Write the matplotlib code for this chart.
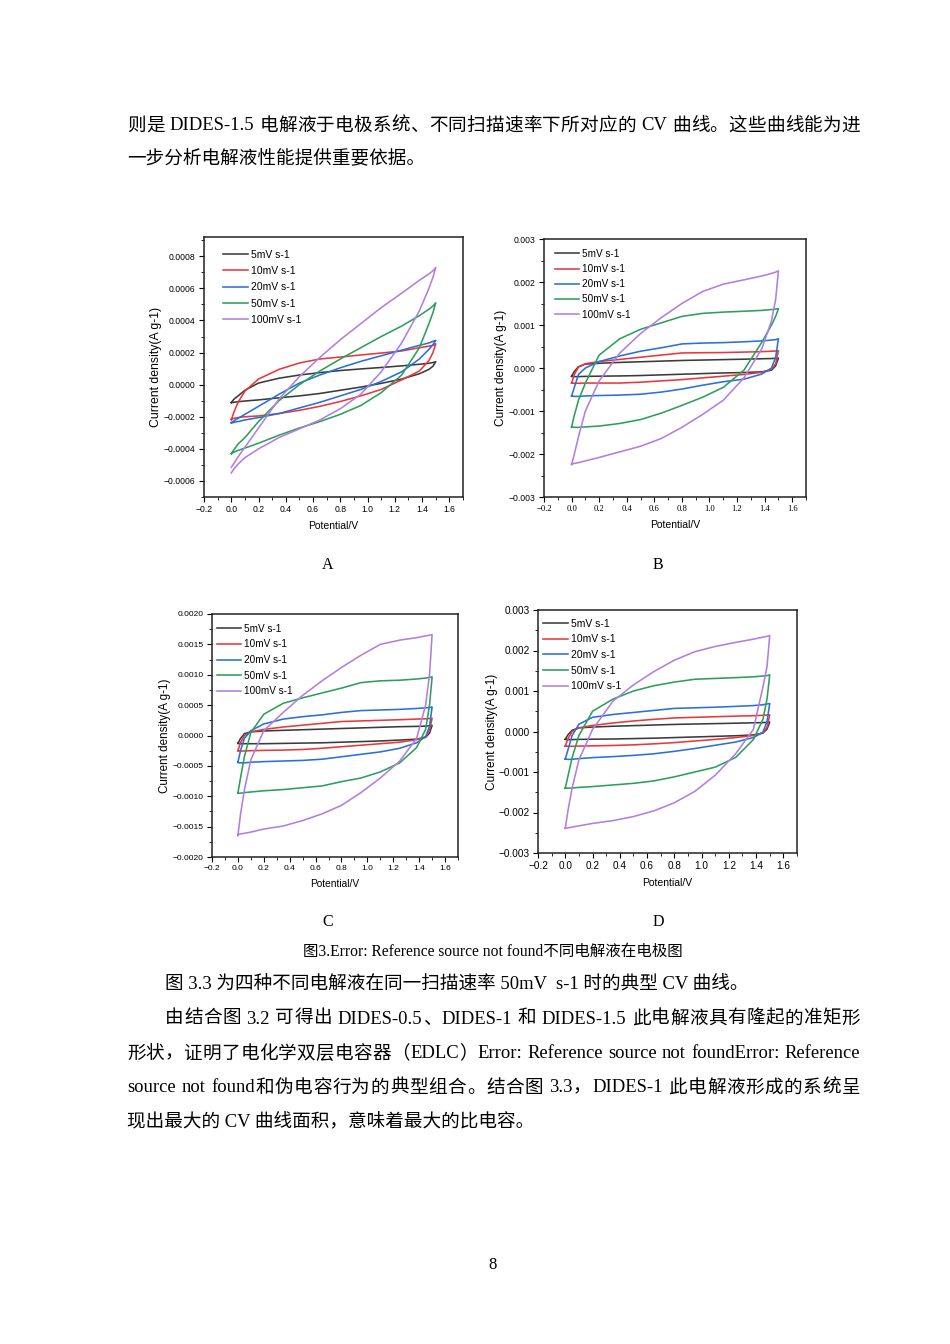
import re
import matplotlib
matplotlib.use("Agg")
import matplotlib.pyplot as plt
from matplotlib.ticker import FixedLocator, FuncFormatter, MultipleLocator

plt.rcParams['font.family'] = ['Liberation Sans', 'DejaVu Sans']
plt.rcParams['axes.unicode_minus'] = True

# ---------------- data (current in units of 1e-4 A g-1) ----------------
RATES = ["5mV s-1", "10mV s-1", "20mV s-1", "50mV s-1", "100mV s-1"]
COLORS = ["#3b3b3b", "#e8383d", "#2a6fdb", "#2e9e5b", "#b27ee0"]
E_GRID = [0, 0.02, 0.05, 0.1, 0.2, 0.35, 0.5, 0.65, 0.8, 0.95, 1.1, 1.25, 1.38, 1.45, 1.48, 1.5]
SCALE = 1e-4

# Panel A
A5_UP = [-1.12, -0.9, -0.7, -0.35, 0.1, 0.4, 0.6, 0.75, 0.88, 0.98, 1.07, 1.17, 1.27, 1.33, 1.38, 1.43]
A5_DN = [-1.12, -1.1, -1.06, -1.02, -0.95, -0.82, -0.7, -0.55, -0.35, -0.15, 0.08, 0.35, 0.68, 0.95, 1.15, 1.43]
A10_UP = [-2.2, -1.7, -1.1, -0.4, 0.35, 0.95, 1.35, 1.6, 1.72, 1.85, 1.97, 2.1, 2.3, 2.4, 2.45, 2.55]
A10_DN = [-2.15, -2.1, -2.05, -2.0, -1.95, -1.8, -1.6, -1.35, -1.05, -0.7, -0.3, 0.3, 0.85, 1.5, 2.0, 2.55]
A20_UP = [-2.36, -2.25, -2.1, -1.85, -1.35, -0.6, 0.1, 0.6, 1.05, 1.45, 1.8, 2.15, 2.45, 2.6, 2.7, 2.76]
A20_DN = [-2.4, -2.35, -2.3, -2.2, -2.05, -1.8, -1.45, -1.1, -0.7, -0.3, 0.2, 0.8, 1.6, 2.2, 2.5, 2.76]
A50_UP = [-4.3, -4.05, -3.7, -3.3, -2.3, -1.0, 0.0, 0.85, 1.6, 2.3, 3.0, 3.65, 4.3, 4.7, 4.9, 5.1]
A50_DN = [-4.3, -4.2, -4.1, -3.95, -3.65, -3.15, -2.7, -2.3, -1.85, -1.3, -0.5, 0.6, 2.3, 3.8, 4.5, 5.1]
A100_UP = [-5.15, -4.9, -4.5, -3.9, -2.7, -0.9, 0.5, 1.7, 2.8, 3.8, 4.8, 5.7, 6.5, 6.9, 7.1, 7.3]
A100_DN = [-5.5, -5.25, -4.95, -4.55, -4.0, -3.3, -2.75, -2.2, -1.5, -0.6, 0.8, 2.6, 4.6, 6.0, 6.7, 7.3]

# Panel B
B5_UP = [-1.9, -0.8, 0.3, 0.9, 1.1, 1.3, 1.45, 1.6, 1.75, 1.85, 1.95, 2.05, 2.15, 2.2, 2.25, 2.3]
B5_DN = [-1.95, -2.0, -2.0, -1.95, -1.9, -1.85, -1.75, -1.6, -1.45, -1.3, -1.15, -1.05, -0.9, -0.5, 0.5, 2.3]
B10_UP = [-3.5, -1.5, 0.2, 1.0, 1.5, 2.0, 2.5, 3.0, 3.5, 3.55, 3.6, 3.7, 3.8, 3.9, 3.95, 4.0]
B10_DN = [-3.5, -3.55, -3.55, -3.5, -3.5, -3.5, -3.3, -3.0, -2.7, -2.3, -1.9, -1.5, -1.0, -0.3, 1.0, 4.0]
B20_UP = [-6.5, -4.5, -1.5, 0.0, 1.5, 2.8, 3.9, 4.7, 5.6, 5.8, 5.9, 6.1, 6.3, 6.5, 6.6, 6.8]
B20_DN = [-6.5, -6.6, -6.6, -6.5, -6.4, -6.3, -6.1, -5.6, -4.9, -4.0, -3.2, -2.6, -1.4, 0.0, 2.5, 6.8]
B50_UP = [-13.7, -11.0, -7.5, -3.5, 3.0, 6.8, 9.0, 10.5, 12.0, 12.7, 13.0, 13.2, 13.4, 13.6, 13.7, 13.8]
B50_DN = [-13.7, -13.8, -13.8, -13.7, -13.5, -12.9, -12.0, -10.5, -8.7, -6.8, -4.5, -0.5, 6.0, 10.0, 12.0, 13.8]
B100_UP = [-22.5, -20.0, -16.0, -10.0, -3.0, 3.5, 8.0, 11.7, 15.0, 17.8, 19.5, 20.5, 21.4, 22.0, 22.3, 22.6]
B100_DN = [-22.3, -22.2, -22.0, -21.6, -20.8, -19.5, -18.2, -16.4, -13.8, -10.8, -7.5, -2.3, 4.5, 11.0, 16.0, 22.6]

# Panel C
C5_UP = [-1.3, -0.5, 0.3, 0.6, 0.75, 0.85, 0.95, 1.05, 1.15, 1.25, 1.35, 1.45, 1.5, 1.55, 1.6, 1.65]
C5_DN = [-1.3, -1.35, -1.35, -1.35, -1.35, -1.3, -1.25, -1.2, -1.1, -1.0, -0.9, -0.75, -0.6, -0.3, 0.4, 1.65]
C10_UP = [-2.5, -1.2, 0.0, 0.6, 1.0, 1.4, 1.7, 2.0, 2.3, 2.4, 2.5, 2.6, 2.7, 2.75, 2.8, 2.85]
C10_DN = [-2.5, -2.55, -2.55, -2.5, -2.45, -2.4, -2.3, -2.1, -1.85, -1.6, -1.35, -1.1, -0.7, -0.2, 0.8, 2.85]
C20_UP = [-4.4, -2.5, -0.5, 0.8, 1.9, 2.7, 3.1, 3.4, 3.8, 4.1, 4.2, 4.3, 4.45, 4.55, 4.6, 4.7]
C20_DN = [-4.45, -4.5, -4.5, -4.4, -4.3, -4.2, -4.1, -3.9, -3.5, -3.1, -2.7, -2.1, -1.2, -0.2, 1.5, 4.7]
C50_UP = [-9.5, -7.0, -3.5, 0.5, 3.5, 5.3, 6.2, 7.0, 7.8, 8.7, 9.0, 9.1, 9.3, 9.45, 9.55, 9.65]
C50_DN = [-9.5, -9.5, -9.4, -9.3, -9.1, -8.9, -8.6, -8.3, -7.6, -7.0, -6.0, -4.5, -2.0, 1.0, 5.0, 9.65]
C100_UP = [-16.5, -13.0, -9.0, -4.0, 0.8, 3.8, 6.6, 9.0, 11.2, 13.2, 15.0, 15.7, 16.1, 16.4, 16.5, 16.6]
C100_DN = [-16.3, -16.2, -16.1, -15.9, -15.4, -14.9, -14.0, -12.9, -11.5, -9.4, -7.0, -4.2, -0.5, 5.0, 10.0, 16.6]

# Panel D
D5_UP = [-1.9, -0.8, 0.3, 0.9, 1.1, 1.3, 1.45, 1.6, 1.75, 1.85, 1.95, 2.05, 2.15, 2.2, 2.25, 2.35]
D5_DN = [-1.95, -2.0, -2.0, -1.95, -1.9, -1.85, -1.75, -1.65, -1.5, -1.35, -1.2, -1.05, -0.85, -0.4, 0.6, 2.35]
D10_UP = [-3.6, -1.8, 0.0, 0.9, 1.5, 2.1, 2.6, 3.0, 3.35, 3.5, 3.65, 3.8, 3.9, 4.0, 4.05, 4.1]
D10_DN = [-3.6, -3.65, -3.65, -3.6, -3.55, -3.45, -3.3, -3.05, -2.75, -2.35, -1.95, -1.5, -1.0, -0.3, 1.0, 4.1]
D20_UP = [-6.8, -4.5, -1.0, 1.8, 3.5, 4.2, 4.7, 5.2, 5.7, 5.85, 6.0, 6.2, 6.4, 6.6, 6.8, 6.9]
D20_DN = [-6.8, -6.9, -6.85, -6.7, -6.45, -6.2, -5.9, -5.5, -4.9, -4.2, -3.4, -2.6, -1.5, -0.2, 2.5, 6.9]
D50_UP = [-14.0, -11.0, -6.5, -1.0, 5.0, 8.0, 10.0, 11.3, 12.2, 12.9, 13.1, 13.3, 13.5, 13.7, 13.8, 14.0]
D50_DN = [-14.0, -14.0, -13.95, -13.8, -13.6, -13.2, -12.8, -12.2, -11.2, -10.0, -8.8, -6.4, -2.0, 3.0, 8.0, 14.0]
D100_UP = [-23.9, -19.5, -14.0, -7.0, 0.5, 7.5, 11.5, 14.8, 17.6, 19.7, 21.0, 22.0, 22.8, 23.3, 23.5, 23.7]
D100_DN = [-23.9, -23.8, -23.6, -23.3, -22.7, -22.0, -21.0, -19.6, -17.6, -14.8, -10.8, -5.5, 0.5, 11.0, 16.0, 23.7]

PANEL_A = [(A5_UP, A5_DN), (A10_UP, A10_DN), (A20_UP, A20_DN), (A50_UP, A50_DN), (A100_UP, A100_DN)]
PANEL_B = [(B5_UP, B5_DN), (B10_UP, B10_DN), (B20_UP, B20_DN), (B50_UP, B50_DN), (B100_UP, B100_DN)]
PANEL_C = [(C5_UP, C5_DN), (C10_UP, C10_DN), (C20_UP, C20_DN), (C50_UP, C50_DN), (C100_UP, C100_DN)]
PANEL_D = [(D5_UP, D5_DN), (D10_UP, D10_DN), (D20_UP, D20_DN), (D50_UP, D50_DN), (D100_UP, D100_DN)]

X_TICKS = [-0.2, 0.0, 0.2, 0.4, 0.6, 0.8, 1.0, 1.2, 1.4, 1.6]

# ---------------- page text ----------------
PARA_1 = "则是 DIDES-1.5 电解液于电极系统、不同扫描速率下所对应的 CV 曲线。这些曲线能为进"
PARA_2 = "一步分析电解液性能提供重要依据。"
CAPTION = "图3.Error: Reference source not found不同电解液在电极图"
BODY_1 = "图 3.3 为四种不同电解液在同一扫描速率 50mV  s-1 时的典型 CV 曲线。"
BODY_2 = "由结合图 3.2 可得出 DIDES-0.5、DIDES-1 和 DIDES-1.5 此电解液具有隆起的准矩形"
BODY_3 = "形状，证明了电化学双层电容器（EDLC）Error: Reference source not foundError: Reference"
BODY_4 = "source not found和伪电容行为的典型组合。结合图 3.3，DIDES-1 此电解液形成的系统呈"
BODY_5 = "现出最大的 CV 曲线面积，意味着最大的比电容。"

W, H = 950, 1344
fig = plt.figure(figsize=(W / 100, H / 100), dpi=100)
fig.patch.set_facecolor("white")
renderer = fig.canvas.get_renderer()

TEXT_FAMILY = ['Liberation Serif', 'Noto Sans CJK SC']
BODY_FS = 13.4


def fx(px):
    return px / W


def fy(py):
    return 1 - py / H


def justified(text, x0, x1, y, fs=BODY_FS):
    tokens = re.findall(r'[\x21-\x7e]+| +|[^\x00-\x7f]', text)
    items = []
    for tok in tokens:
        if tok.strip() == "":
            items.append((None, len(tok) * fs * 0.25 * 100 / 72))
            continue
        t = fig.text(0, 0, tok, fontsize=fs, family=TEXT_FAMILY, va='center')
        w = t.get_window_extent(renderer).width
        items.append((t, w))
    total = sum(w for _, w in items)
    gaps = len(items) - 1
    extra = (x1 - x0 - total) / gaps if x1 is not None and gaps > 0 else 0
    x = x0
    for t, w in items:
        if t is not None:
            t.set_position((fx(x), fy(y)))
        x += w + extra


def plain(text, x, y, fs=BODY_FS, ha='left'):
    fig.text(fx(x), fy(y), text, fontsize=fs, family=TEXT_FAMILY, va='center', ha=ha)


justified(PARA_1, 127, 860, 126)
plain(PARA_2, 127, 158)
plain("A", 328, 565, fs=11.5, ha='center')
plain("B", 658, 565, fs=11.5, ha='center')
plain("C", 328, 922, fs=11.5, ha='center')
plain("D", 658, 922, fs=11.5, ha='center')
plain(CAPTION, 493, 952, fs=11.2, ha='center')
plain(BODY_1, 165, 984)
justified(BODY_2, 165, 860, 1019)
justified(BODY_3, 127, 860, 1054)
justified(BODY_4, 127, 860, 1088)
plain(BODY_5, 127, 1121)
plain("8", 493, 1265, fs=12, ha='center')


def fmt_factory(decimals):
    def f(v, pos):
        s = f"{v:.{decimals}f}"
        if float(s) == 0:
            s = f"{0:.{decimals}f}"
        return s.replace('-', '\u2212')
    return FuncFormatter(f)


def panel(box, data, ylim, ystep, decimals, tick_fs, lab_fs, ylab_fs, leg_fs,
          xtick_serif=False, ylab_pad=2, leg_anchor=(0.02, 0.99), leg_space=0.35):
    left, top, right, bottom = box
    ax = fig.add_axes([fx(left), fy(bottom), (right - left) / W, (bottom - top) / H])
    for (up, dn), color, name in zip(data, COLORS, RATES):
        xs = list(E_GRID) + list(E_GRID[::-1])
        ys = [v * SCALE for v in up] + [v * SCALE for v in dn[::-1]]
        ax.plot(xs, ys, color=color, lw=1.15, label=name, solid_joinstyle='round')
    ax.set_xlim(-0.2, 1.7)
    ax.set_ylim(*ylim)
    ax.xaxis.set_major_locator(FixedLocator(X_TICKS))
    ax.xaxis.set_minor_locator(MultipleLocator(0.1))
    ax.xaxis.set_major_formatter(FuncFormatter(lambda v, p: f"{v:.1f}".replace('-', '\u2212')))
    ax.yaxis.set_major_locator(MultipleLocator(ystep))
    ax.yaxis.set_minor_locator(MultipleLocator(ystep / 2))
    ax.yaxis.set_major_formatter(fmt_factory(decimals))
    ax.tick_params(which='major', direction='out', length=3.5, width=0.8,
                   labelsize=tick_fs, pad=2.5, top=False, right=False)
    ax.tick_params(which='minor', direction='out', length=2, width=0.6, top=False, right=False)
    if xtick_serif:
        for lab in ax.get_xticklabels():
            lab.set_family('Liberation Serif')
    for sp in ax.spines.values():
        sp.set_linewidth(1.1)
        sp.set_color('#222222')
    ax.set_xlabel("Potential/V", fontsize=lab_fs, labelpad=5)
    ax.set_ylabel("Current density(A g-1)", fontsize=ylab_fs, labelpad=ylab_pad)
    ax.legend(loc='upper left', bbox_to_anchor=leg_anchor, frameon=False, fontsize=leg_fs,
              handlelength=2.4, handletextpad=0.3, labelspacing=leg_space, borderaxespad=0.2)
    return ax


panel((204, 237, 463, 497), PANEL_A, (-0.0007, 0.00092), 0.0002, 4, 6.2, 7.5, 8.8, 7.5,
      ylab_pad=1.5, leg_anchor=(0.05, 0.975), leg_space=0.6)
panel((544, 239, 806, 497), PANEL_B, (-0.003, 0.003), 0.001, 3, 6.2, 7.5, 8.6, 7.2,
      xtick_serif=True, ylab_pad=1.5, leg_anchor=(0.02, 0.985), leg_space=0.52)
panel((212, 614, 458, 857), PANEL_C, (-0.002, 0.002), 0.0005, 4, 6.0, 7.3, 8.4, 7.2,
      ylab_pad=1.0, leg_anchor=(-0.005, 0.985), leg_space=0.57)
panel((538, 610, 797, 853), PANEL_D, (-0.003, 0.003), 0.001, 3, 7.2, 7.5, 8.6, 7.5,
      ylab_pad=0.5, leg_anchor=(-0.005, 0.99), leg_space=0.54)

fig.savefig("out.png", dpi=100, facecolor="white")
